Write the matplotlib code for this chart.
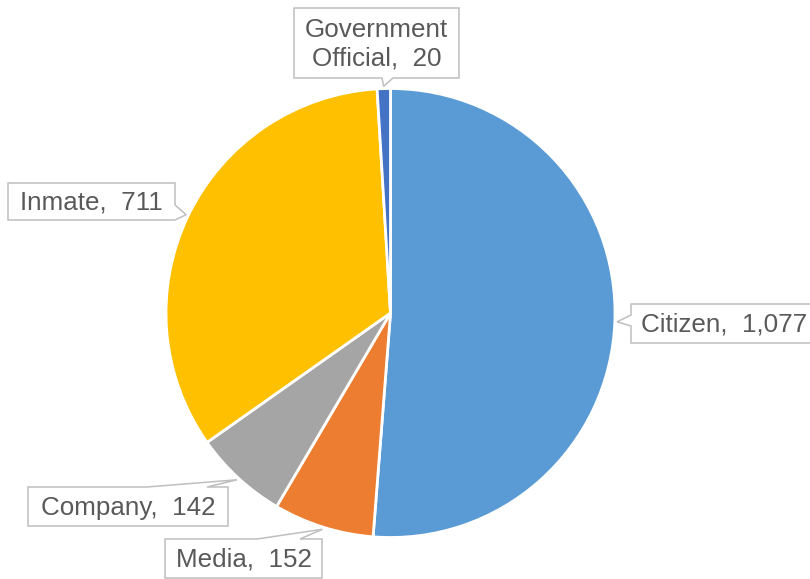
import matplotlib
matplotlib.use("Agg")
import matplotlib.pyplot as plt
from matplotlib.patches import Polygon
import numpy as np

# records by requester type
labels = ["Citizen", "Media", "Company", "Inmate", "Government\nOfficial"]
values = [1077, 152, 142, 711, 20]
colors = ["#5B9BD5", "#ED7D31", "#A5A5A5", "#FFC000", "#4472C4"]

W, H = 810, 579
CX, CY, R = 390.5, 313, 224.5   # pie centre and radius, pixels

# callout boxes (left, top, right, bottom), side with the pointer, pointer base span
BOXES = [
    ((631, 304, 826, 343), "left", (315, 326)),
    ((165, 539, 322, 578), "top", (257, 300)),
    ((28, 487, 228, 526), "top", (147, 207)),
    ((8, 183, 175, 220), "right", (205, 220)),
    ((294, 8, 459, 78), "bottom", (382, 393)),
]


def callout(box, side, base, tip):
    l, t, r, b = box
    b0, b1 = base
    if side == "top":
        pts = [(l, t), (b0, t), tip, (b1, t), (r, t), (r, b), (l, b)]
    elif side == "right":
        pts = [(l, t), (r, t), (r, b0), tip, (r, b1), (r, b), (l, b)]
    elif side == "bottom":
        pts = [(l, t), (r, t), (r, b), (b1, b), tip, (b0, b), (l, b)]
    else:
        pts = [(l, t), (r, t), (r, b), (l, b), (l, b1), tip, (l, b0)]
    return pts


fig = plt.figure(figsize=(W / 100, H / 100), dpi=100)
fig.patch.set_facecolor("white")

ax = fig.add_axes([(CX - R) / W, 1 - (CY + R) / H, 2 * R / W, 2 * R / H])
wedges, _ = ax.pie(values, colors=colors, startangle=90, counterclock=False,
                   radius=1, wedgeprops=dict(edgecolor="white", linewidth=2))
ax.set_xlim(-1, 1)
ax.set_ylim(-1, 1)
ax.axis("off")

# overlay in pixel coordinates for the data labels
ov = fig.add_axes([0, 0, 1, 1])
ov.set_xlim(0, W)
ov.set_ylim(H, 0)
ov.axis("off")

for w, lab, v, (box, side, base) in zip(wedges, labels, values, BOXES):
    mid = np.deg2rad((w.theta1 + w.theta2) / 2)
    tip = (CX + R * 1.01 * np.cos(mid), CY - R * 1.01 * np.sin(mid))
    poly = Polygon(callout(box, side, base, tip), closed=True, facecolor="white",
                   edgecolor="#BFBFBF", linewidth=1.1, joinstyle="miter",
                   clip_on=False)
    ov.add_patch(poly)
    l, t, r, b = box
    ov.text((l + min(r, 818)) / 2, (t + b) / 2 + 1, f"{lab},  {v:,}",
            ha="center", va="center", fontsize=18.7, color="#595959",
            family="Liberation Sans", linespacing=1.25)

fig.savefig("out.png", dpi=100)
